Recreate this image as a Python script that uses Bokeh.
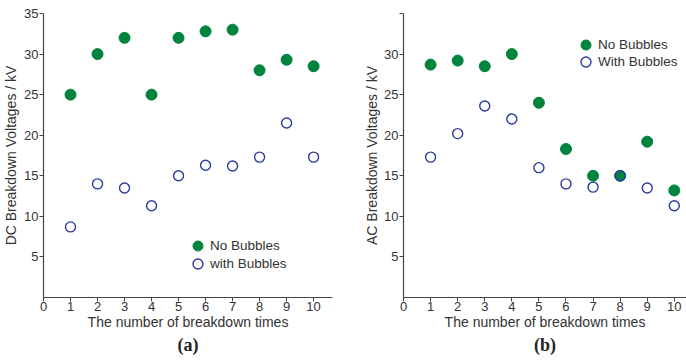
from bokeh.embed import file_html
from bokeh.layouts import row
from bokeh.models import (ColumnDataSource, FixedTicker, Legend, LegendItem,
                          Range1d, Title)
from bokeh.plotting import figure
from bokeh.resources import INLINE

# Breakdown test number
times = [1, 2, 3, 4, 5, 6, 7, 8, 9, 10]

# DC breakdown voltages (kV)
dc_no_bubbles = [25.0, 30.0, 32.0, 25.0, 32.0, 32.8, 33.0, 28.0, 29.3, 28.5]
dc_with_bubbles = [8.7, 14.0, 13.5, 11.3, 15.0, 16.3, 16.2, 17.3, 21.5, 17.3]

# AC breakdown voltages (kV)
ac_no_bubbles = [28.7, 29.2, 28.5, 30.0, 24.0, 18.3, 15.0, 15.0, 19.2, 13.2]
ac_with_bubbles = [17.3, 20.2, 23.6, 22.0, 16.0, 14.0, 13.6, 15.0, 13.5, 11.3]

x_ticks = [0, 1, 2, 3, 4, 5, 6, 7, 8, 9, 10]
y_ticks = [5, 10, 15, 20, 25, 30, 35]

GREEN = "#00843d"
BLUE = "#2b3c9e"
INK = "#333333"
SANS = "Liberation Sans"


def legend_entry(label, renderer, loc):
    # one entry per legend so the two rows can sit closer than the glyph box
    return Legend(items=[LegendItem(label=label, renderers=[renderer])],
                  location=loc, orientation="vertical",
                  glyph_width=25, glyph_height=25, label_height=14,
                  label_standoff=0, spacing=0, padding=0, margin=0,
                  border_line_color=None, background_fill_alpha=0,
                  label_text_font=SANS, label_text_font_size="13.5px",
                  label_text_color=INK)


def panel(no_b, with_b, legend_labels, y_title, tag, x_end, border_left,
          border_right, legend_locs, hide_top_label, ytitle_standoff,
          xtitle_offset, tag_offset):
    p = figure(width=343, height=364, output_backend="svg",
               toolbar_location=None, x_range=Range1d(0, x_end),
               y_range=Range1d(0, 35), min_border_left=border_left,
               min_border_right=border_right, min_border_top=13,
               min_border_bottom=67)
    p.outline_line_color = None
    p.xgrid.visible = False
    p.ygrid.visible = False

    for ax in (p.xaxis[0], p.yaxis[0]):
        ax.axis_line_color = "#444444"
        ax.axis_line_width = 1.2
        ax.major_tick_line_color = "#444444"
        ax.major_tick_out = 4
        ax.major_tick_in = 0
        ax.minor_tick_line_color = None
        ax.major_label_text_font = SANS
        ax.major_label_text_font_size = "13px"
        ax.major_label_text_color = INK

    p.xaxis[0].major_label_standoff = 0
    p.yaxis[0].major_label_standoff = 1
    p.xaxis[0].ticker = FixedTicker(ticks=x_ticks)
    p.yaxis[0].ticker = FixedTicker(ticks=y_ticks)
    if hide_top_label:
        p.yaxis[0].major_label_overrides = {35: ""}

    p.yaxis[0].axis_label = y_title
    p.yaxis[0].axis_label_standoff = ytitle_standoff
    p.yaxis[0].axis_label_text_font = SANS
    p.yaxis[0].axis_label_text_font_style = "normal"
    p.yaxis[0].axis_label_text_font_size = "14px"
    p.yaxis[0].axis_label_text_color = INK

    src = ColumnDataSource(dict(t=times, no=no_b, wb=with_b))
    r_no = p.scatter("t", "no", source=src, size=11, marker="circle",
                     fill_color=GREEN, line_color=GREEN)
    r_wb = p.scatter("t", "wb", source=src, size=10, marker="circle",
                     fill_color=None, line_color=BLUE, line_width=1.4)

    p.add_layout(legend_entry(legend_labels[0], r_no, legend_locs[0]))
    p.add_layout(legend_entry(legend_labels[1], r_wb, legend_locs[1]))

    p.add_layout(Title(text="The number of breakdown times", align="center",
                       offset=xtitle_offset, standoff=-4, text_font=SANS,
                       text_font_style="normal", text_font_size="14px",
                       text_color=INK), "below")
    p.add_layout(Title(text=tag, align="center", offset=tag_offset,
                       standoff=11, text_font="Liberation Serif",
                       text_font_style="bold", text_font_size="18px",
                       text_color="#222222"), "below")
    return p


left = panel(dc_no_bubbles, dc_with_bubbles, ["No Bubbles", "with Bubbles"],
             "DC Breakdown Voltages / kV", "(a)", 10.7, 42, 11,
             [(142, 39.5), (142, 21.2)], False, 2, 16, -24)
right = panel(ac_no_bubbles, ac_with_bubbles, ["No Bubbles", "With Bubbles"],
              "AC Breakdown Voltages / kV", "(b)", 10.45, 60, 0,
              [(170, 240.5), (170, 222.8)], True, 1, 6, -20)

layout = row(left, right)
open("out.html", "w").write(file_html(layout, INLINE))
